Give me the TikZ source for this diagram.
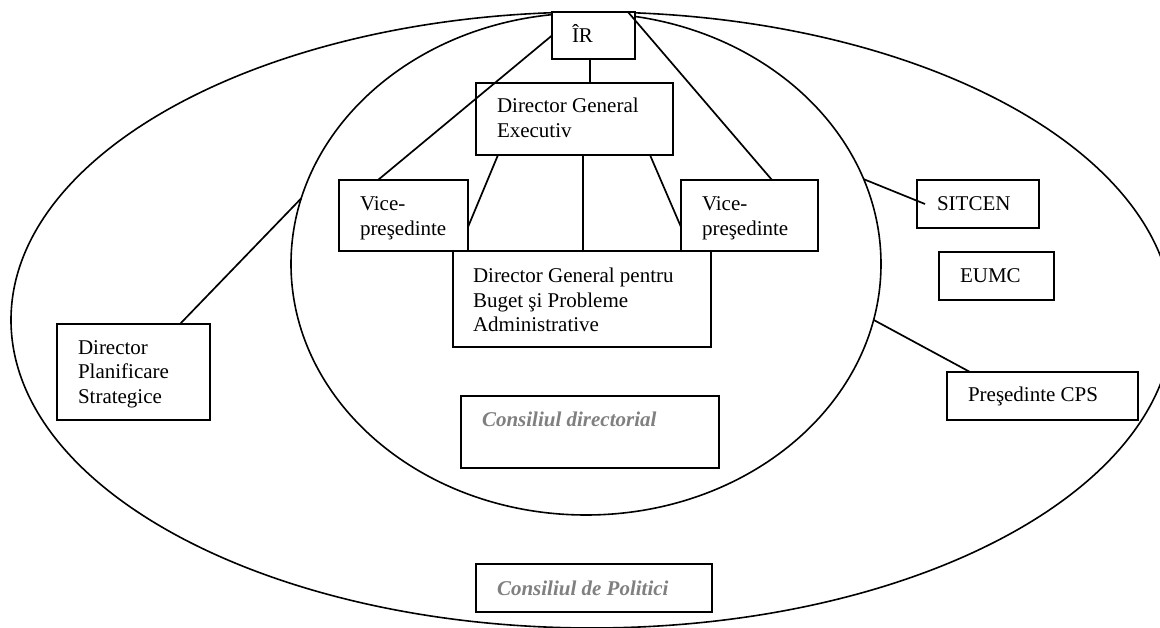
\documentclass[tikz,border=0pt]{standalone}
\usepackage{fontspec}
\setmainfont{Liberation Serif}
\usetikzlibrary{shapes.geometric}
\definecolor{cgray}{HTML}{808080}
\newcommand{\bxt}[5]{\parbox[c][#2][t]{#1}{\raggedright\leftskip=#3\relax\rule{0pt}{#4}#5}}
\begin{document}
\begin{tikzpicture}[x=1pt,y=-1pt,
  bx/.style={draw, line width=2.2pt, fill=white, rectangle, inner sep=0pt, outer sep=0pt, anchor=north west, font={\fontsize{21pt}{24.5pt}\selectfont}},
  ring/.style={draw, line width=1.6pt, ellipse, inner sep=0pt, outer sep=0pt},
  conn/.style={line width=1.7pt}]
\useasboundingbox (0,0) rectangle (1160,628);
\clip (0,0) rectangle (1160,628);
\fill[white] (0,0) rectangle (1160,628);
\node[ring, minimum width=1162pt, minimum height=616pt] (pol) at (592,320) {};
\node[ring, minimum width=590pt, minimum height=502pt] (dir) at (586,264) {};

\node[bx] (ir) at (552,12) {\bxt{83pt}{47pt}{20pt}{31pt}{ÎR}};
\node[bx] (dge) at (476,83) {\bxt{197pt}{72pt}{21pt}{30pt}{Director General\\Executiv}};
\node[bx] (dgb) at (453,251) {\bxt{258pt}{96pt}{20pt}{32pt}{Director General pentru\\Buget şi Probleme\\Administrative}};
\node[bx] (vl) at (339,180) {\bxt{129pt}{71pt}{21pt}{31pt}{Vice-\\preşedinte}};
\node[bx] (vr) at (681,180) {\bxt{137pt}{71pt}{21pt}{31pt}{Vice-\\preşedinte}};
\node[bx] (dps) at (57,324) {\bxt{153pt}{96pt}{21pt}{30pt}{Director\\Planificare\\Strategice}};
\node[bx] (sit) at (917,180) {\bxt{122pt}{48pt}{20pt}{31pt}{SITCEN}};
\node[bx] (eumc) at (939,252) {\bxt{115pt}{48pt}{21pt}{31pt}{EUMC}};
\node[bx] (cps) at (947,372) {\bxt{191pt}{48pt}{21pt}{30pt}{Preşedinte CPS}};
\node[bx] (cd) at (461,396) {\bxt{258pt}{72pt}{21pt}{31pt}{\color{cgray}\bfseries\itshape Consiliul directorial}};
\node[bx] (cp) at (476,564) {\bxt{236pt}{48pt}{21pt}{31pt}{\color{cgray}\bfseries\itshape Consiliul de Politici}};

\coordinate (irb) at ([xshift=-3.5pt]ir.south);
\draw[conn] (irb) -- (irb |- dge.north);
\draw[conn] (ir.west) -- ([xshift=-25.5pt]vl.north);
\draw[conn] ([xshift=-7pt]ir.north east) -- ([xshift=22.5pt]vr.north);
\draw[conn] ([xshift=22pt]dge.south west) -- ([yshift=-11.5pt]vl.east);
\coordinate (dgm) at ([xshift=8.5pt]dge.south);
\draw[conn] (dgm) -- (dgm |- dgb.north);
\draw[conn] ([xshift=-23pt]dge.south east) -- ([yshift=-11.5pt]vr.west);
\draw[conn] ([xshift=46.5pt]dps.north) -- (dir.167.9);
\draw[conn] (dir.17.06) -- ([xshift=8pt]sit.west);
\draw[conn] (dir.-11.85) -- ([xshift=23pt]cps.north west);
\end{tikzpicture}
\end{document}
